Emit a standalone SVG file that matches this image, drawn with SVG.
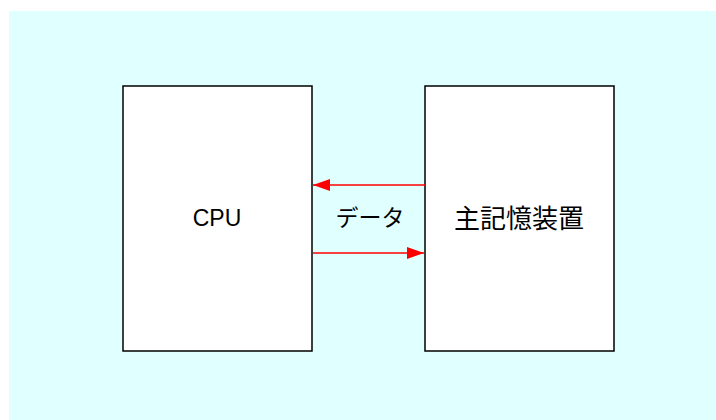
<svg xmlns="http://www.w3.org/2000/svg" width="716" height="420" viewBox="0 0 716 420">
<style>
.box{fill:#fff;stroke:#000;stroke-width:1.5}
.lbl{font-family:"Liberation Sans","Noto Sans CJK JP",sans-serif;font-size:23px;fill:#000;text-anchor:middle;dominant-baseline:central}
.conn{stroke:#f00;stroke-width:1.5;fill:none}
</style>
<defs>
<marker id="ah" markerWidth="17" markerHeight="12" refX="17" refY="6" orient="auto" markerUnits="userSpaceOnUse">
<path d="M0,0 L17,6 L0,12 Z" fill="#f00"/>
</marker>
</defs>
<rect x="9" y="11" width="707" height="409" fill="#e0ffff"/>
<g id="cpu">
<rect class="box" x="123" y="86" width="189" height="265"/>
<text class="lbl" x="217" y="218">CPU</text>
</g>
<g id="memory">
<rect class="box" x="425" y="86" width="189" height="265"/>
<text class="lbl" x="519" y="219" style="font-size:26px">主記憶装置</text>
</g>
<g id="connectors">
<line class="conn" x1="425" y1="185" x2="313" y2="185" marker-end="url(#ah)"/>
<line class="conn" x1="313" y1="253" x2="424" y2="253" marker-end="url(#ah)"/>
<text class="lbl" x="370" y="218">データ</text>
</g>
</svg>
